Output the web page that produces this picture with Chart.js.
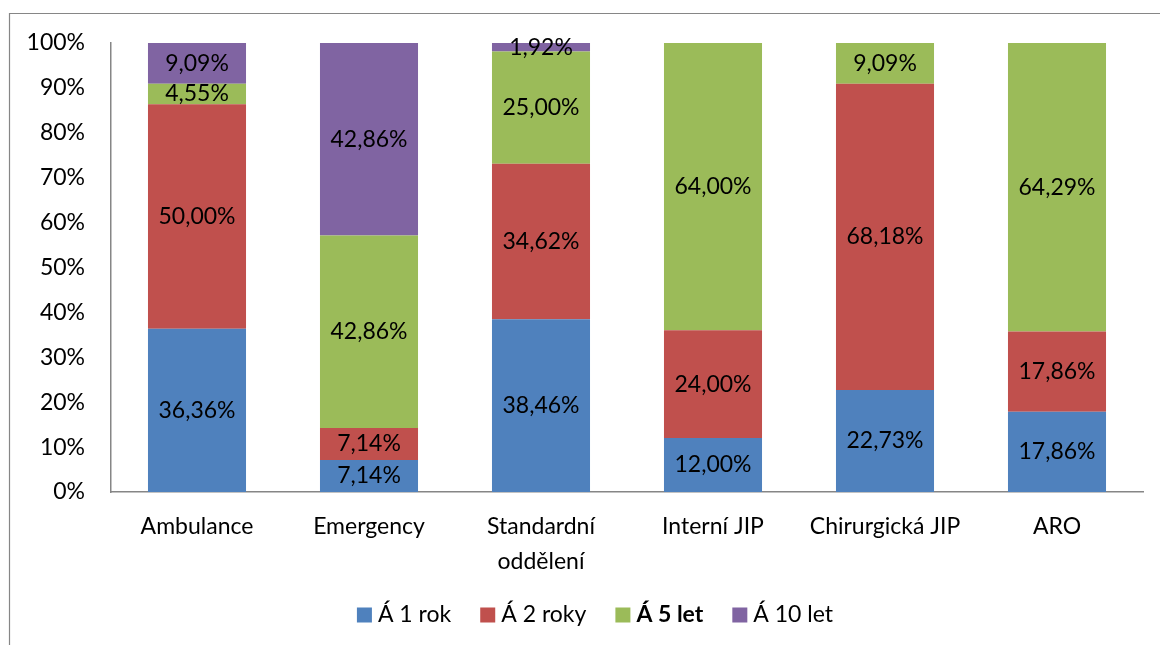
<!DOCTYPE html>
<html>
<head>
<meta charset="utf-8">
<script src="https://cdn.jsdelivr.net/npm/chart.js@4.4.1/dist/chart.umd.min.js"></script>
<style>
  html, body { margin: 0; padding: 0; background: #fff; }
  #wrap { position: relative; width: 1160px; height: 645px; }
  canvas { display: block; }
</style>
</head>
<body>
<div id="wrap"><canvas id="c" width="1160" height="645"></canvas></div>
<script>
// Categories (multi-line labels as arrays)
const categories = [
  'Ambulance',
  'Emergency',
  ['Standardní', 'oddělení'],
  'Interní JIP',
  'Chirurgická JIP',
  'ARO'
];

// Series shares in percent
const seriesNames = ['Á 1 rok', 'Á 2 roky', 'Á 5 let', 'Á 10 let'];
const rok1   = [36.36, 7.14, 38.46, 12.00, 22.73, 17.86];
const roky2  = [50.00, 7.14, 34.62, 24.00, 68.18, 17.86];
const let5   = [4.55, 42.86, 25.00, 64.00, 9.09, 64.29];
const let10  = [9.09, 42.86, 1.92, 0, 0, 0];
const seriesColors = ['#4F81BD', '#C0504D', '#9BBB59', '#8064A2'];
const boldLegend = [false, false, true, false];

const yTicks = [0, 10, 20, 30, 40, 50, 60, 70, 80, 90, 100];

const FONT = 'Lato, "Open Sans", sans-serif';
const FSIZE = 23;
const AXIS = '#868686';

const fmt = v => v.toFixed(2).replace('.', ',') + '%';

// Outer frame around the chart object
const framePlugin = {
  id: 'frame',
  beforeDraw(chart) {
    const ctx = chart.ctx;
    ctx.save();
    ctx.strokeStyle = AXIS;
    ctx.lineWidth = 1.2;
    ctx.beginPath();
    ctx.moveTo(9.5, chart.height + 2);
    ctx.lineTo(9.5, 13.5);
    ctx.lineTo(chart.width + 2, 13.5);
    ctx.stroke();
    ctx.restore();
  }
};

// Value labels centred in each segment
const valueLabels = {
  id: 'valueLabels',
  afterDatasetsDraw(chart) {
    const ctx = chart.ctx;
    ctx.save();
    ctx.font = FSIZE + 'px ' + FONT;
    ctx.fillStyle = '#000';
    ctx.textAlign = 'center';
    ctx.textBaseline = 'middle';
    chart.data.datasets.forEach((ds, di) => {
      const meta = chart.getDatasetMeta(di);
      meta.data.forEach((el, i) => {
        const v = ds.data[i];
        if (!v) return;
        const y = (el.y + el.base) / 2;
        ctx.fillText(fmt(v), el.x, y);
      });
    });
    ctx.restore();
  }
};

// Legend row at the bottom (third entry in bold)
const bottomLegend = {
  id: 'bottomLegend',
  afterDraw(chart) {
    const ctx = chart.ctx;
    const box = 15, gapText = 6, gapItem = 29;
    const y = 615;
    ctx.save();
    ctx.textBaseline = 'middle';
    ctx.textAlign = 'left';
    const items = chart.data.datasets.map((ds, i) => {
      ctx.font = (boldLegend[i] ? 'bold ' : '') + FSIZE + 'px ' + FONT;
      return { label: ds.label, color: ds.backgroundColor, bold: boldLegend[i], w: ctx.measureText(ds.label).width };
    });
    const total = items.reduce((s, it) => s + box + gapText + it.w, 0) + gapItem * (items.length - 1);
    let x = chart.width / 2 + 15 - total / 2;
    items.forEach(it => {
      ctx.fillStyle = it.color;
      ctx.fillRect(x, y - box / 2, box, box);
      x += box + gapText;
      ctx.font = (it.bold ? 'bold ' : '') + FSIZE + 'px ' + FONT;
      ctx.fillStyle = '#000';
      ctx.fillText(it.label, x, y);
      x += it.w + gapItem;
    });
    ctx.restore();
  }
};

const seriesData = [rok1, roky2, let5, let10];

new Chart(document.getElementById('c'), {
  type: 'bar',
  data: {
    labels: categories,
    datasets: seriesNames.map((name, i) => ({
      label: name,
      data: seriesData[i],
      backgroundColor: seriesColors[i],
      borderWidth: 0,
      categoryPercentage: 1.0,
      barPercentage: 0.57
    }))
  },
  options: {
    responsive: false,
    animation: false,
    layout: { padding: { top: 43, right: 17, left: 0, bottom: 0 } },
    plugins: {
      legend: { display: false },
      tooltip: { enabled: false }
    },
    scales: {
      x: {
        stacked: true,
        grid: { display: false },
        border: { display: true, color: AXIS, width: 1.5 },
        ticks: {
          color: '#000',
          font: { family: FONT, size: FSIZE, lineHeight: 1.52 },
          padding: 9,
          maxRotation: 0,
          autoSkip: false
        },
        afterFit(scale) { scale.height = 153; }
      },
      y: {
        stacked: true,
        min: 0,
        max: 100,
        grid: { display: false },
        border: { display: true, color: AXIS, width: 1.5 },
        afterBuildTicks(scale) { scale.ticks = yTicks.map(v => ({ value: v })); },
        ticks: {
          color: '#000',
          font: { family: FONT, size: FSIZE },
          padding: 18,
          callback: v => v + '%'
        },
        afterFit(scale) { scale.width = 111; }
      }
    }
  },
  plugins: [framePlugin, valueLabels, bottomLegend]
});
</script>
</body>
</html>
